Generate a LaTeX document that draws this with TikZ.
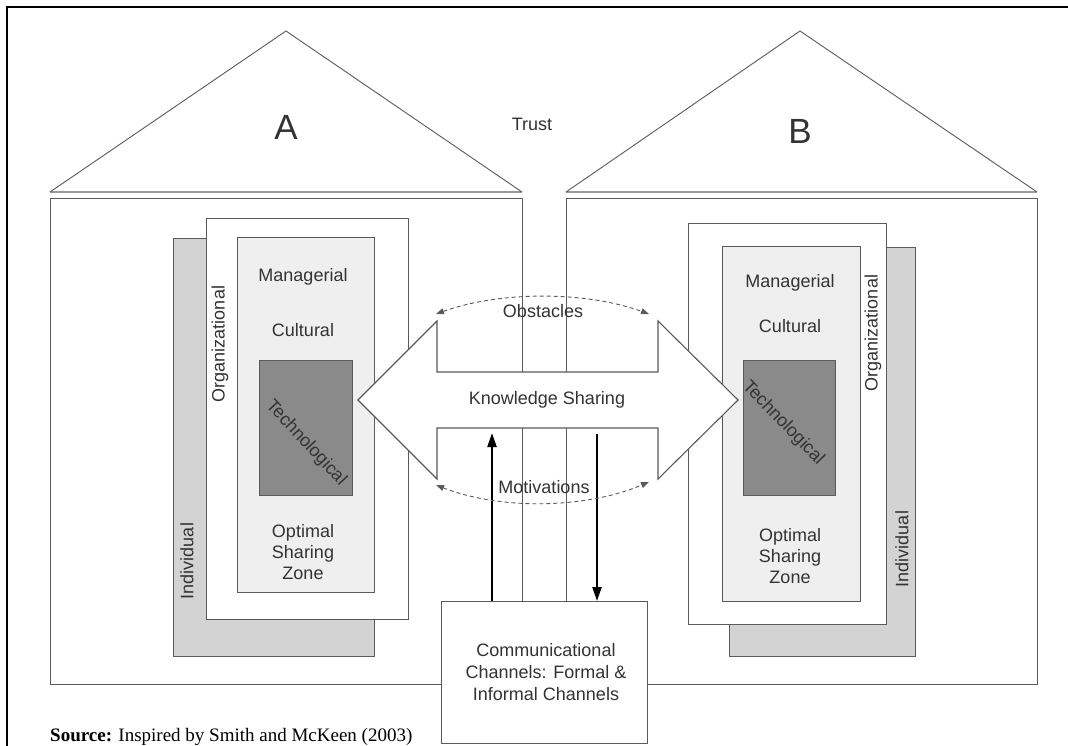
\documentclass[tikz,border=0pt]{standalone}
\usepackage{fontspec}
\setmainfont{Liberation Sans}
\newfontfamily\srcfont{Liberation Serif}
\usetikzlibrary{arrows.meta}

\definecolor{linec}{HTML}{5A5A5A}
\definecolor{textc}{HTML}{333333}
\definecolor{indfill}{HTML}{D3D3D3}
\definecolor{zonefill}{HTML}{EFEFEF}
\definecolor{techfill}{HTML}{8A8A8A}
\definecolor{roofbase}{HTML}{9A9A9A}

\tikzset{
  lbl/.style={text=textc, font=\fontsize{18}{21}\selectfont, inner sep=0pt},
  panel/.style={draw=linec, line width=1.1pt, inner sep=0pt, anchor=north west},
  housebody/.style={panel, fill=white},
  indbox/.style={panel, fill=indfill},
  orgbox/.style={panel, fill=white},
  zonebox/.style={panel, fill=zonefill},
  techbox/.style={panel, fill=techfill},
  roofline/.style={draw=linec, line width=0.9pt, line join=miter},
  flowarrow/.style={black, line width=2.2pt, -{Triangle[length=14pt,width=9pt]}},
  forcearc/.style={draw=linec, line width=0.9pt, dash pattern=on 4pt off 3pt,
    {Triangle[length=8pt,width=6pt]}-{Triangle[length=8pt,width=6pt]}},
}

\begin{document}
\begin{tikzpicture}[x=1pt,y=-1pt]
\useasboundingbox (0,0) rectangle (1068,746);
\fill[white] (0,0) rectangle (1068,746);

% page frame
\draw[black, line width=2pt] (7,746) -- (7,7) -- (1068,7);

% house bodies
\node[housebody, minimum width=472pt, minimum height=486pt] (houseA) at (50,198) {};
\node[housebody, minimum width=471pt, minimum height=486pt] (houseB) at (566,198) {};

% roofs
\draw[roofbase, line width=2.6pt] (50,192) -- (522,192);
\draw[roofbase, line width=2.6pt] (566,192) -- (1037,192);
\draw[roofline] (50,192) -- (286,31) -- (522,192);
\draw[roofline] (566,192) -- (800,31) -- (1037,192);
\node[text=textc, font=\fontsize{35}{38}\selectfont] (labA) at (286,127) {A};
\node[text=textc, font=\fontsize{35}{38}\selectfont] (labB) at (800,131) {B};
\node[lbl] (trust) at (532,124) {Trust};

% stack of house A
\node[indbox, minimum width=201pt, minimum height=418pt] (indA) at (173,238) {};
\node[orgbox, minimum width=202pt, minimum height=401pt] (orgA) at (206,218) {};
\node[zonebox, minimum width=137pt, minimum height=355pt] (zoneA) at (237,237) {};
\node[techbox, minimum width=93pt, minimum height=135pt] (techA) at (259,360) {};

% stack of house B
\node[indbox, minimum width=186pt, minimum height=409pt] (indB) at (729,247) {};
\node[orgbox, minimum width=198pt, minimum height=401pt] (orgB) at (688,223) {};
\node[zonebox, minimum width=138pt, minimum height=355pt] (zoneB) at (722,246) {};
\node[techbox, minimum width=92pt, minimum height=135pt] (techB) at (743,360) {};

% knowledge sharing double arrow
\draw[draw=linec, line width=1.1pt, fill=white, line join=miter]
  (358,400) -- (437,321) -- (437,372) -- (658,372) -- (658,321)
  -- (738,400) -- (658,479) -- (658,428) -- (437,428) -- (437,479) -- cycle;
\node[lbl] (ks) at (547,400) {Knowledge Sharing};

% communication channels
\node[housebody, minimum width=206pt, minimum height=142pt] (comm) at (441,601) {};
\node[lbl, align=center, font=\fontsize{18}{22}\selectfont] (commtext) at (546,672)
  {Communicational\\Channels: Formal \&\\Informal Channels};

\coordinate (upTip) at (492,433);
\coordinate (downStart) at (597,434);
\draw[flowarrow] (comm.north -| upTip) -- (upTip);
\draw[flowarrow] (downStart) -- (comm.north -| downStart);

% obstacles and motivations
\coordinate (obsL) at (436,314);
\coordinate (obsR) at (649,314);
\coordinate (motL) at (436,485);
\coordinate (motR) at (649,482);
\draw[forcearc] (obsL) .. controls (500,291) and (585,291) .. (obsR);
\draw[forcearc] (motL) .. controls (500,510) and (585,509) .. (motR);
\node[lbl] (obs) at (543,311) {Obstacles};
\node[lbl] (mot) at (544,487) {Motivations};

% labels of house A
\node[lbl] (manA) at (303,277) {Managerial};
\node[lbl] (culA) at (303,330) {Cultural};
\node[lbl, rotate=-47] (tecA) at (306,443) {Technological};
\node[lbl, align=center] (optA) at (303,552) {Optimal\\Sharing\\Zone};
\node[lbl, rotate=90] (orgAl) at (220,344) {Organizational};
\node[lbl, rotate=90] (indAl) at (187,561) {Individual};

% labels of house B
\node[lbl] (manB) at (790,283) {Managerial};
\node[lbl] (culB) at (790,326) {Cultural};
\node[lbl, rotate=-46] (tecB) at (783,423) {Technological};
\node[lbl, align=center] (optB) at (790,556) {Optimal\\Sharing\\Zone};
\node[lbl, rotate=90] (orgBl) at (873,333) {Organizational};
\node[lbl, rotate=90] (indBl) at (902,549) {Individual};

% source line
\node[anchor=base west, inner sep=0pt, text=black] (src) at (50,741)
  {\srcfont\fontsize{19}{22}\selectfont\textbf{Source:} Inspired by Smith and McKeen (2003)};
\end{tikzpicture}
\end{document}
